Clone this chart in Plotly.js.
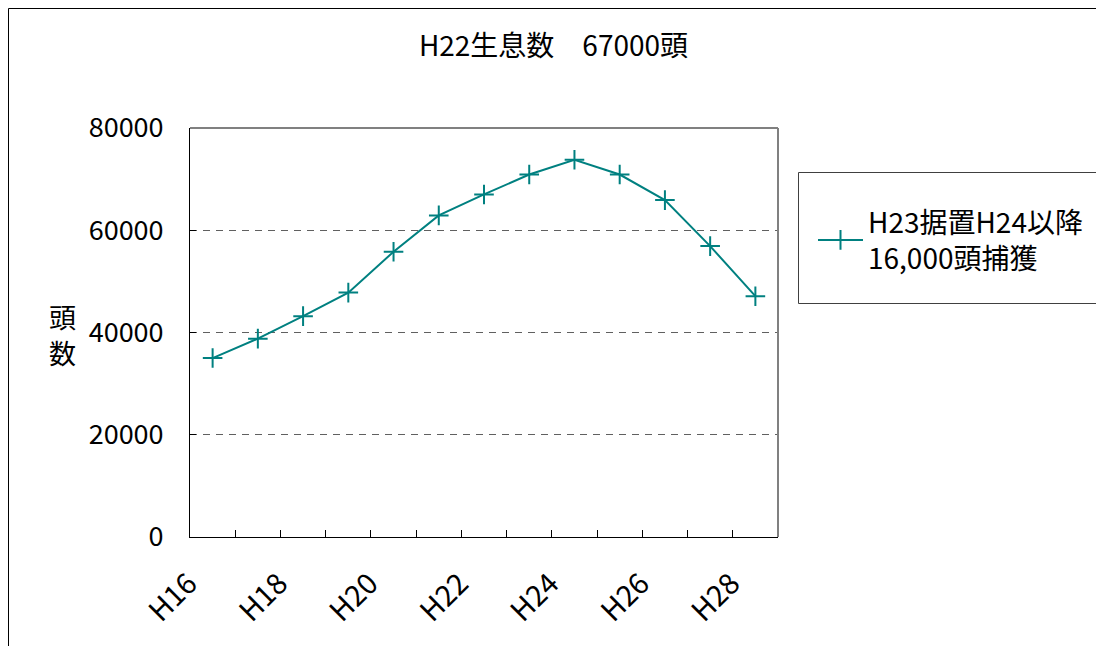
<!DOCTYPE html>
<html>
<head>
<meta charset="utf-8">
<script src="https://cdn.plot.ly/plotly-3.0.1.min.js"></script>
<style>html,body{margin:0;padding:0;background:#fff;}#chart{width:1096px;height:646px;}</style>
</head>
<body>
<div id="chart"></div>
<script>
// Data
const categories = ["H16","H17","H18","H19","H20","H21","H22","H23","H24","H25","H26","H27","H28"];
const tickLabels = ["H16","","H18","","H20","","H22","","H24","","H26","","H28"];
const population = [35000, 38800, 43200, 47800, 55800, 62900, 67000, 70900, 73800, 70900, 65900, 56900, 47100];
const seriesName = "H23据置H24以降<br>16,000頭捕獲";
const chartTitle = "H22生息数　67000頭";
const yTitleChars = ["頭", "数"];
const yTicks = [0, 20000, 40000, 60000, 80000];

const W = 1096, H = 646;
const ml = 190, mr = 318, mt = 128, mb = 109;
const pw = W - ml - mr, ph = H - mt - mb;
const px2x = p => (p - ml) / pw;
const px2y = p => (H - mb - p) / ph;
const FONT = "Noto Sans CJK JP, Noto Sans, sans-serif";
const teal = "#008080";

const trace = {
  type: "scatter",
  mode: "lines+markers",
  x: categories,
  y: population,
  name: seriesName,
  line: {color: teal, width: 2},
  marker: {symbol: "cross-thin", size: 14, color: teal, line: {color: teal, width: 2}}
};

const annotations = yTitleChars.map((ch, i) => ({
  text: ch, xref: "paper", yref: "paper", x: px2x(62), y: px2y(316 + i * 36),
  xanchor: "center", yanchor: "middle", showarrow: false,
  font: {family: FONT, size: 27, color: "#000"}
}));

const layout = {
  width: W, height: H,
  margin: {l: ml, r: mr, t: mt, b: mb, pad: 0, autoexpand: false},
  paper_bgcolor: "#ffffff",
  plot_bgcolor: "#ffffff",
  font: {family: FONT, color: "#000000", size: 22},
  title: {text: chartTitle, x: 0.505, xanchor: "center", y: 1 - 46/H, yanchor: "middle",
          font: {family: FONT, size: 28, color: "#000"}},
  showlegend: true,
  legend: {
    x: px2x(813), xanchor: "left", y: px2y(197), yanchor: "top",
    bgcolor: "rgba(0,0,0,0)", borderwidth: 0,
    font: {family: FONT, size: 28, color: "#000"},
    itemwidth: 45
  },
  xaxis: {
    type: "category",
    categoryorder: "array", categoryarray: categories,
    range: [-0.5, categories.length - 0.5],
    tickvals: categories, ticktext: tickLabels,
    tickson: "boundaries",
    ticks: "inside", ticklen: 7, tickwidth: 1, tickcolor: "#000",
    tickangle: -45,
    tickfont: {family: FONT, size: 29, color: "#000"},
    ticklabelstandoff: 17,
    ticklabelshift: -24,
    automargin: false,
    showline: true, linecolor: "#000", linewidth: 1,
    showgrid: false, zeroline: false, fixedrange: true
  },
  yaxis: {
    range: [0, 80000],
    tickvals: yTicks, tickformat: "d",
    ticks: "inside", ticklen: 6, tickwidth: 1, tickcolor: "#000",
    tickfont: {family: FONT, size: 27, color: "#000"},
    ticklabelstandoff: 20,
    automargin: false,
    showline: true, linecolor: "#000", linewidth: 1,
    showgrid: true, gridcolor: "#606060", gridwidth: 1, griddash: "7px,6px",
    zeroline: false, fixedrange: true
  },
  shapes: [
    // plot-area border (top and right, gray)
    {type: "line", xref: "paper", yref: "paper", x0: 0, x1: 1, y0: 1, y1: 1, line: {color: "#808080", width: 2}, layer: "above"},
    {type: "line", xref: "paper", yref: "paper", x0: 1, x1: 1, y0: 0, y1: 1, line: {color: "#808080", width: 2}, layer: "above"},
    // chart-area outer border (top and left, black)
    {type: "line", xref: "paper", yref: "paper", x0: px2x(8.5), x1: px2x(W + 10), y0: px2y(8.5), y1: px2y(8.5), line: {color: "#000", width: 1}},
    {type: "line", xref: "paper", yref: "paper", x0: px2x(8.5), x1: px2x(8.5), y0: px2y(8.5), y1: px2y(H + 10), line: {color: "#000", width: 1}},
    // legend box
    {type: "rect", xref: "paper", yref: "paper", x0: px2x(798.5), x1: px2x(W + 20), y0: px2y(172.5), y1: px2y(303.5), line: {color: "#404040", width: 1}, fillcolor: "rgba(0,0,0,0)", layer: "below"}
  ],
  annotations: annotations
};

Plotly.newPlot("chart", [trace], layout, {displayModeBar: false, staticPlot: true});
</script>
</body>
</html>
